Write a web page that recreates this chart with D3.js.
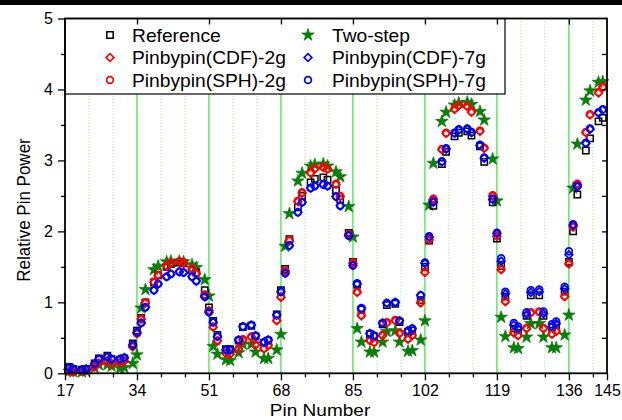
<!DOCTYPE html>
<html><head><meta charset="utf-8">
<script src="https://cdn.jsdelivr.net/npm/d3@7"></script>
<style>html,body{margin:0;padding:0;background:#fff;} svg{display:block;}</style>
</head><body>
<svg id="c" width="622" height="420"></svg>
<script>
const pins = [18,19,21,22,24,25,27,28,30,31,33,34, 35,36,38,39,41,42,44,45,47,48,50,51,
  52,53,55,56,58,59,61,62,64,65,67,68, 69,70,72,73,75,76,78,79,81,82,84,85,
  86,87,89,90,92,93,95,96,98,99,101,102, 103,104,106,107,109,110,112,113,115,116,118,119,
  120,121,123,124,126,127,129,130,132,133,135,136, 137,138,140,141,143,144];
const reference = [0.09,0.06,0.05,0.06,0.14,0.21,0.25,0.20,0.19,0.21,0.42,0.60,
  0.78,1.00,1.28,1.38,1.50,1.54,1.56,1.55,1.45,1.42,1.17,0.93,
  0.74,0.54,0.34,0.34,0.46,0.65,0.67,0.52,0.43,0.46,0.83,1.17,
  1.47,1.89,2.34,2.50,2.69,2.74,2.76,2.73,2.58,2.45,1.98,1.57,
  1.25,0.90,0.55,0.52,0.69,0.96,0.98,0.72,0.58,0.60,1.03,1.50,
  1.87,2.36,2.95,3.12,3.34,3.39,3.41,3.35,3.20,2.98,2.41,1.90,
  1.51,1.08,0.63,0.61,0.81,1.10,1.10,0.81,0.65,0.68,1.15,1.57,
  2.00,2.52,3.14,3.31,3.55,3.60];
const twoStep = [0.03,0.02,0.02,0.03,0.08,0.12,0.12,0.10,0.07,0.08,0.14,0.26,
  0.92,1.18,1.46,1.51,1.57,1.58,1.58,1.57,1.53,1.49,1.32,1.09,
  0.38,0.27,0.19,0.18,0.29,0.41,0.41,0.30,0.21,0.21,0.33,0.55,
  1.79,2.25,2.71,2.82,2.92,2.94,2.95,2.92,2.84,2.77,2.35,1.92,
  0.63,0.44,0.30,0.30,0.44,0.59,0.60,0.44,0.31,0.32,0.47,0.74,
  2.37,2.96,3.55,3.68,3.78,3.81,3.82,3.79,3.69,3.57,3.02,2.43,
  0.79,0.52,0.36,0.35,0.51,0.70,0.70,0.51,0.36,0.36,0.54,0.82,
  2.61,3.23,3.85,3.98,4.10,4.11];
const cdf2g = [0.03,0.02,0.03,0.04,0.09,0.14,0.17,0.13,0.15,0.17,0.37,0.56,
  0.76,0.99,1.28,1.38,1.51,1.55,1.57,1.55,1.47,1.40,1.10,0.88,
  0.65,0.46,0.28,0.27,0.34,0.47,0.51,0.40,0.35,0.39,0.74,1.07,
  1.44,1.87,2.42,2.54,2.82,2.88,2.90,2.88,2.66,2.49,1.96,1.55,
  1.14,0.81,0.46,0.43,0.53,0.71,0.74,0.56,0.48,0.53,0.99,1.42,
  1.88,2.45,3.15,3.38,3.72,3.77,3.76,3.68,3.41,3.17,2.50,1.93,
  1.46,1.01,0.57,0.53,0.63,0.85,0.86,0.63,0.55,0.59,1.08,1.54,
  2.06,2.66,3.39,3.64,3.95,4.03];
const sph2g = [0.03,0.02,0.03,0.04,0.10,0.14,0.18,0.14,0.15,0.18,0.38,0.56,
  0.77,1.00,1.29,1.39,1.52,1.56,1.58,1.56,1.48,1.41,1.11,0.88,
  0.66,0.46,0.29,0.28,0.35,0.48,0.52,0.41,0.35,0.40,0.75,1.08,
  1.45,1.88,2.43,2.55,2.83,2.89,2.91,2.88,2.67,2.50,1.96,1.56,
  1.15,0.82,0.47,0.44,0.54,0.72,0.75,0.57,0.49,0.54,1.00,1.43,
  1.89,2.46,3.16,3.39,3.73,3.78,3.77,3.69,3.42,3.18,2.51,1.94,
  1.47,1.02,0.58,0.54,0.64,0.86,0.87,0.64,0.56,0.60,1.09,1.55,
  2.07,2.67,3.40,3.65,3.96,4.04];
const cdf7g = [0.08,0.06,0.05,0.06,0.13,0.20,0.23,0.20,0.20,0.22,0.40,0.58,
  0.71,0.93,1.17,1.26,1.36,1.40,1.43,1.42,1.36,1.30,1.08,0.86,
  0.72,0.52,0.33,0.33,0.47,0.66,0.68,0.53,0.44,0.47,0.82,1.15,
  1.41,1.80,2.27,2.41,2.61,2.64,2.66,2.64,2.49,2.36,1.94,1.52,
  1.26,0.91,0.56,0.53,0.71,0.99,1.00,0.74,0.60,0.63,1.10,1.55,
  1.92,2.41,2.98,3.16,3.38,3.43,3.44,3.39,3.21,3.03,2.45,1.97,
  1.58,1.12,0.68,0.63,0.83,1.14,1.15,0.84,0.66,0.70,1.19,1.67,
  2.09,2.63,3.24,3.44,3.67,3.71];
const sph7g = [0.08,0.06,0.05,0.06,0.13,0.20,0.23,0.20,0.20,0.22,0.40,0.58,
  0.71,0.93,1.17,1.26,1.36,1.40,1.43,1.42,1.36,1.30,1.08,0.86,
  0.72,0.52,0.33,0.33,0.47,0.66,0.68,0.53,0.44,0.47,0.82,1.15,
  1.41,1.80,2.27,2.41,2.61,2.64,2.66,2.64,2.49,2.36,1.94,1.52,
  1.27,0.92,0.56,0.53,0.71,0.99,1.00,0.74,0.60,0.63,1.10,1.56,
  1.93,2.42,2.99,3.17,3.39,3.44,3.45,3.40,3.22,3.04,2.46,1.98,
  1.62,1.15,0.71,0.66,0.86,1.17,1.18,0.87,0.69,0.73,1.22,1.72,
  2.10,2.64,3.25,3.45,3.68,3.72];
const xTicks = [17,34,51,68,85,102,119,136,145];
const yTicks = [0,1,2,3,4,5];
const seriesNames = ["Reference","Two-step","Pinbypin(CDF)-2g","Pinbypin(CDF)-7g","Pinbypin(SPH)-2g","Pinbypin(SPH)-7g"];

const FONT = "'Liberation Sans', Arial, sans-serif";
const W = 622, H = 420;
const L = 65, R = 607, T = 18.5, B = 373.3;
const svg = d3.select('#c');
const x = d3.scaleLinear().domain([17,145]).range([L,R]);
const y = d3.scaleLinear().domain([0,5]).range([B,T]);

svg.append('rect').attr('x',0).attr('y',0).attr('width',W).attr('height',5).attr('fill','#000');

const majors = xTicks.slice(1,-1);
const minors = [];
for (let k=1; 17 + k*17/3 < 145; k++) if (k%3) minors.push(17 + k*17/3);

const grid = svg.append('g');
grid.selectAll('line.mn').data(minors).join('line')
  .attr('x1',d=>x(d)).attr('x2',d=>x(d)).attr('y1',B).attr('y2',T)
  .attr('stroke','#8fe08f').attr('stroke-width',1).attr('stroke-dasharray','1,2');
grid.selectAll('line.mj').data(majors).join('line')
  .attr('x1',d=>x(d)).attr('x2',d=>x(d)).attr('y1',B).attr('y2',T)
  .attr('stroke','#4ede4e').attr('stroke-width',1.3);

// legend box
const lg = svg.append('g');
lg.append('rect').attr('x',L).attr('y',T).attr('width',440).attr('height',75.5)
  .attr('fill','#fff').attr('stroke','#000').attr('stroke-width',1.2);

const sq = d3.symbol().type(d3.symbolSquare).size(40);
const dm = d3.symbol().type(d3.symbolSquare).size(30);
const ci = d3.symbol().type(d3.symbolCircle).size(36);
const st = d3.symbol().type(d3.symbolStar).size(48);
const styles = {
  "Reference": {p: sq(), rot: 0, stroke: '#000', fill: 'none', sw: 1.5},
  "Two-step": {p: st(), rot: 0, stroke: '#0a7d0a', fill: '#0a7d0a', sw: 0.8},
  "Pinbypin(CDF)-2g": {p: dm(), rot: 45, stroke: '#ff0000', fill: 'none', sw: 1.7},
  "Pinbypin(CDF)-7g": {p: dm(), rot: 45, stroke: '#0000ff', fill: 'none', sw: 1.7},
  "Pinbypin(SPH)-2g": {p: ci(), rot: 0, stroke: '#ff0000', fill: 'none', sw: 1.7},
  "Pinbypin(SPH)-7g": {p: ci(), rot: 0, stroke: '#0000ff', fill: 'none', sw: 1.7}
};
const values = {
  "Reference": reference, "Two-step": twoStep,
  "Pinbypin(CDF)-2g": cdf2g, "Pinbypin(CDF)-7g": cdf7g,
  "Pinbypin(SPH)-2g": sph2g, "Pinbypin(SPH)-7g": sph7g
};

// legend entries
const legPos = [[110,132,35],[308,332,35],[110,132,57.5],[308,332,57.5],[110,132,80],[308,332,80]];
seriesNames.forEach((n,i)=>{
  const s = styles[n], [sx,tx,ty] = legPos[i];
  lg.append('path').attr('d',s.p)
    .attr('transform',`translate(${sx},${ty}) rotate(${s.rot})`)
    .attr('stroke',s.stroke).attr('fill',s.fill).attr('stroke-width',s.sw);
  lg.append('text').attr('transform',`translate(${tx},${ty+6.5}) scale(1.1,1)`)
    .attr('font-family',FONT).attr('font-size',17.5).text(n);
});

// data
const drawOrder = ["Two-step","Reference","Pinbypin(CDF)-2g","Pinbypin(SPH)-2g","Pinbypin(CDF)-7g","Pinbypin(SPH)-7g"];
drawOrder.forEach(n=>{
  const s = styles[n];
  svg.append('g').selectAll('path').data(pins.map((p,i)=>[p,values[n][i]])).join('path')
    .attr('d',s.p)
    .attr('transform',d=>`translate(${x(d[0])},${y(d[1])}) rotate(${s.rot})`)
    .attr('stroke',s.stroke).attr('fill',s.fill).attr('stroke-width',s.sw);
});

// axes
const axG = svg.append('g').attr('font-family',FONT);
const bAx = axG.append('g').attr('transform',`translate(0,${B})`)
  .call(d3.axisBottom(x).tickValues(xTicks).tickSize(7).tickPadding(4).tickFormat(d3.format('d')));
const bMin = axG.append('g').attr('transform',`translate(0,${B})`)
  .call(d3.axisBottom(x).tickValues(minors).tickSize(4).tickFormat(''));
const tAx = axG.append('g').attr('transform',`translate(0,${T})`)
  .call(d3.axisBottom(x).tickValues(majors).tickSize(6).tickFormat(''));
const lAx = axG.append('g').attr('transform',`translate(${L},0)`)
  .call(d3.axisLeft(y).tickValues(yTicks).tickSize(7).tickPadding(5).tickFormat(d3.format('d')));
const lMin = axG.append('g').attr('transform',`translate(${L},0)`)
  .call(d3.axisLeft(y).tickValues([0.5,1.5,2.5,3.5,4.5]).tickSize(4).tickFormat(''));
const rAx = axG.append('g').attr('transform',`translate(${R},0)`)
  .call(d3.axisLeft(y).tickValues(d3.range(0.5,5,0.5)).tickSize(5).tickFormat(''));
[bAx,bMin,tAx,lAx,lMin,rAx].forEach(g=>{
  g.select('.domain').remove();
  g.selectAll('line').attr('stroke','#000').attr('stroke-width',1.3);
  g.selectAll('text').attr('font-size',16).attr('fill','#000').attr('font-family',FONT);
});
svg.append('rect').attr('x',L).attr('y',T).attr('width',R-L).attr('height',B-T)
  .attr('fill','none').attr('stroke','#000').attr('stroke-width',1.8);

// titles
svg.append('text').attr('transform',`translate(320,416) scale(1.12,1)`)
  .attr('text-anchor','middle').attr('font-family',FONT).attr('font-size',17).text('Pin Number');
svg.append('text').attr('transform',`translate(30,210) rotate(-90) scale(1,1.12)`)
  .attr('text-anchor','middle').attr('font-family',FONT).attr('font-size',17).text('Relative Pin Power');
</script>
</body></html>
